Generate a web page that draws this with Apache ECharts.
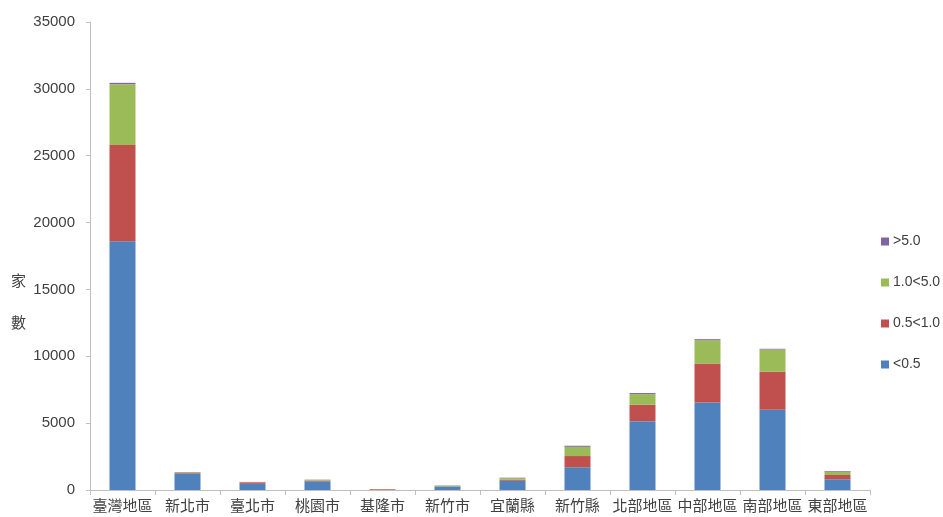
<!DOCTYPE html>
<html>
<head>
<meta charset="utf-8">
<script src="https://cdn.jsdelivr.net/npm/echarts@6/dist/echarts.min.js"></script>
<style>
  html, body { margin: 0; padding: 0; background: #fff; }
  #chart { width: 943px; height: 517px; }
</style>
</head>
<body>
<div id="chart"></div>
<script>
// 各地區家數，依規模區間堆疊
const categories = ['臺灣地區', '新北市', '臺北市', '桃園市', '基隆市', '新竹市', '宜蘭縣', '新竹縣', '北部地區', '中部地區', '南部地區', '東部地區'];
const seriesNames = ['<0.5', '0.5<1.0', '1.0<5.0', '>5.0'];
const under05   = [18600, 1230, 460, 650, 15, 260, 690, 1700, 5150, 6550, 6000, 800];
const from05to1 = [7200,  40,   110, 60,  50, 20,  90,  840,  1220, 2910, 2840, 320];
const from1to5  = [4550,  60,   15,  60,  10, 60,  110, 690,  800,  1740, 1670, 250];
const over5     = [100,   15,   20,  10,  0,  5,   30,  80,   80,   80,   50,   50];
const yTicks = [0, 5000, 10000, 15000, 20000, 25000, 30000, 35000];

const colors = ['#4F81BD', '#C0504D', '#9BBB59', '#8064A2'];
const values = [under05, from05to1, from1to5, over5];
const textColor = '#404040';
const axisColor = '#BFBFBF';
const font = '"Liberation Sans", Arial, "Noto Sans CJK TC", sans-serif';

const chart = echarts.init(document.getElementById('chart'), null, { renderer: 'canvas' });
chart.setOption({
  animation: false,
  color: colors,
  textStyle: { fontFamily: font },
  grid: { left: 90, right: 73, top: 22, bottom: 27, containLabel: false },
  legend: {
    orient: 'vertical',
    left: 876,
    top: 229,
    itemWidth: 8,
    itemHeight: 8,
    itemGap: 26,
    icon: 'rect',
    data: ['>5.0', '1.0<5.0', '0.5<1.0', '<0.5'],
    textStyle: { color: textColor, fontSize: 14, lineHeight: 15, padding: [0, 0, 0, -1] }
  },
  xAxis: {
    type: 'category',
    data: categories,
    axisLine: { lineStyle: { color: axisColor, width: 1 } },
    axisTick: { show: true, length: 5, lineStyle: { color: axisColor } },
    axisLabel: { color: textColor, fontSize: 15, margin: 8, interval: 0, fontFamily: '"Noto Sans CJK TC", sans-serif' },
    splitLine: { show: false }
  },
  yAxis: {
    type: 'value',
    min: yTicks[0],
    max: yTicks[yTicks.length - 1],
    interval: yTicks[1] - yTicks[0],
    axisLine: { show: true, lineStyle: { color: axisColor, width: 1 } },
    axisTick: { show: true, length: 4, lineStyle: { color: axisColor } },
    axisLabel: { color: textColor, fontSize: 15, margin: 15, formatter: v => String(v) },
    splitLine: { show: false }
  },
  graphic: [{
    type: 'text',
    left: 11,
    top: 259,
    style: {
      text: '家\n數',
      fill: textColor,
      font: '15px "Noto Sans CJK TC", sans-serif',
      lineHeight: 42
    }
  }],
  series: seriesNames.map((name, i) => ({
    name: name,
    type: 'bar',
    stack: 'total',
    barWidth: 26,
    data: values[i],
    itemStyle: { color: colors[i] }
  }))
});
</script>
</body>
</html>
